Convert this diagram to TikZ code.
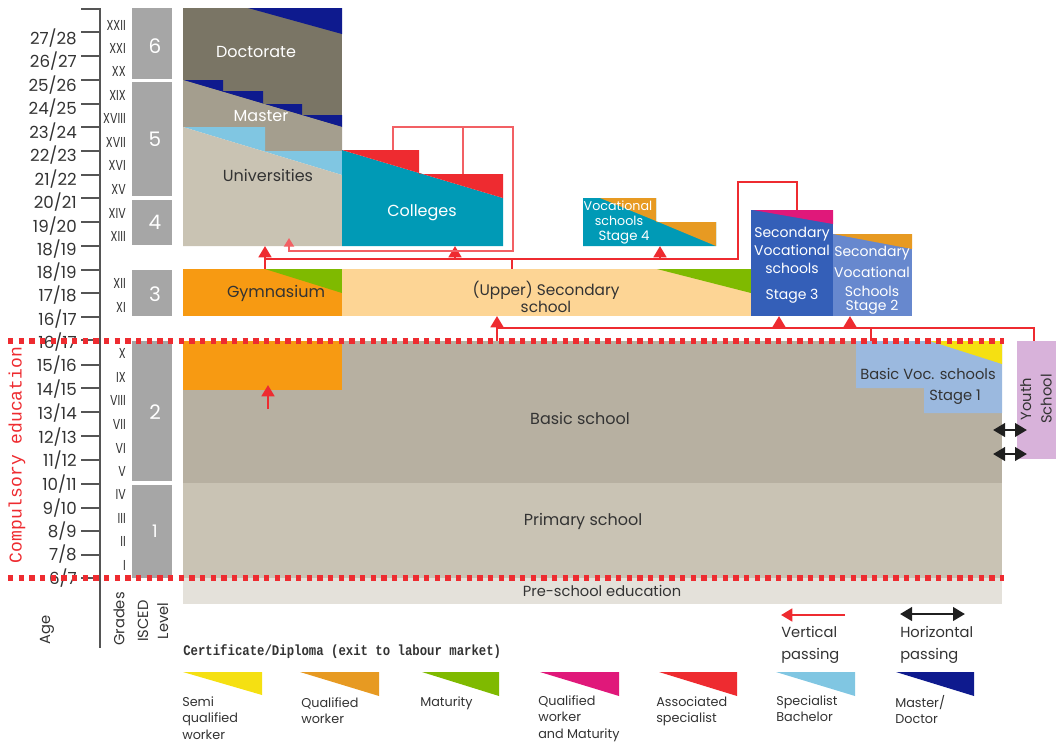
\documentclass[tikz,border=0pt]{standalone}
\usepackage{fontspec}
\setmainfont{Poppins}
\setmonofont{Liberation Mono}
\usetikzlibrary{arrows.meta}
\definecolor{cdoc}{HTML}{7A7565}
\definecolor{cmas}{HTML}{A49E8E}
\definecolor{cuni}{HTML}{C9C3B3}
\definecolor{cnavy}{HTML}{0E1A8E}
\definecolor{clblue}{HTML}{80C6E2}
\definecolor{cteal}{HTML}{009AB6}
\definecolor{cred}{HTML}{EE2B30}
\definecolor{corange}{HTML}{F79A12}
\definecolor{cqorange}{HTML}{E79A22}
\definecolor{cgreen}{HTML}{7FBA00}
\definecolor{clorange}{HTML}{FDD595}
\definecolor{cmag}{HTML}{E0187A}
\definecolor{cyellow}{HTML}{F5E012}
\definecolor{csvs}{HTML}{345FB8}
\definecolor{csvsb}{HTML}{6788CE}
\definecolor{cbasic}{HTML}{B7B0A1}
\definecolor{cprim}{HTML}{C9C3B4}
\definecolor{cpre}{HTML}{E4E1DA}
\definecolor{cbvoc}{HTML}{9BB9DF}
\definecolor{cyouth}{HTML}{D8B2DA}
\definecolor{cisced}{HTML}{A6A6A6}
\definecolor{ctext}{HTML}{333333}
\definecolor{caxis}{HTML}{555555}
\newcommand{\tallrom}[1]{\scalebox{1}[1.3]{#1}}
\begin{document}
\begin{tikzpicture}[x=0.75pt,y=-0.75pt,
  lbl/.style={font=\fontsize{12}{14.5}\selectfont, text=ctext, inner sep=0pt, align=center},
  wlbl/.style={lbl, text=white},
  agelbl/.style={font=\fontsize{12.5}{14}\selectfont, anchor=east, inner sep=0pt, text=ctext},
  gradelbl/.style={font=\fontsize{8.3}{9}\selectfont, anchor=east, inner sep=0pt, text=ctext},
  iscedlbl/.style={font=\fontsize{15}{16}\selectfont, text=white, inner sep=0pt},
  collbl/.style={font=\fontsize{11}{13}\selectfont, text=ctext, inner sep=0pt, rotate=90},
  redln/.style={draw=cred, line width=2pt},
  redarr/.style={redln, -{Triangle[width=9.5pt,length=8.5pt]}},
  pinkln/.style={draw=cred!75, line width=1.4pt},
  pinkarr/.style={pinkln, -{Triangle[width=7.5pt,length=6.5pt]}},
  blkarr/.style={draw=black!88, line width=2.2pt, {Triangle[width=10pt,length=9pt]}-{Triangle[width=10pt,length=9pt]}},
  dotln/.style={draw=cred, line width=3.8pt, dash pattern=on 4pt off 4pt},
  leglbl/.style={font=\fontsize{9.6}{12.4}\selectfont, align=left, anchor=north west, inner sep=0pt, text=ctext},
  passlbl/.style={font=\fontsize{11}{16.5}\selectfont, align=left, anchor=north west, inner sep=0pt, text=ctext}
]
\useasboundingbox (0,0) rectangle (1056,747);

% ---------- Age axis ----------
\draw[caxis, line width=1.3pt] (100,8) -- (100,648);
\foreach \t in {9,32,56,80,104,127,151,175,198,222,246,270,293,317,340,365,388,412,436,460,484,508,531,555,578}
  \draw[caxis, line width=1.3pt] (81,\t) -- (100,\t);
\foreach \y/\a/\b [count=\i] in {38/27/28,61/26/27,85/25/26,108/24/25,132/23/24,155/22/23,179/21/22,202/20/21,226/19/20,249/18/19,
  272/18/19,295/17/18,319/16/17,342/16/17,365/15/16,389/14/15,413/13/14,437/12/13,460/11/12,484/10/11,508/9/10,531/8/9,554/7/8,578/6/7}
  \node[agelbl] (age\i) at (77,\y) {\a/\b};

% ---------- Grades ----------
\foreach \y/\g in {25/XXII,48/XXI,71/XX,95/XIX,118/XVIII,142/XVII,165/XVI,189/XV,213/XIV,236/XIII,
  283/XII,307/XI,353/X,377/IX,400/VIII,424/VII,448/VI,471/V,494/IV,518/III,541/II,565/I}
  \node[gradelbl] (gr\g) at (126,\y) {\tallrom{\g}};

% ---------- ISCED ----------
\fill[cisced] (132,8) rectangle (172,79);
\fill[cisced] (132,82) rectangle (172,196);
\fill[cisced] (132,200) rectangle (172,245);
\fill[cisced] (132,270) rectangle (172,316);
\fill[cisced] (132,341) rectangle (172,481);
\fill[cisced] (132,485) rectangle (172,578);
\node[iscedlbl] (is6) at (155,46) {6};
\node[iscedlbl] (is5) at (155,139) {5};
\node[iscedlbl] (is4) at (155,222) {4};
\node[iscedlbl] (is3) at (155,294) {3};
\node[iscedlbl] (is2) at (155,412) {2};
\node[iscedlbl, font=\fontsize{13}{14}\selectfont] (is1) at (155,531) {1};

\node[collbl] (hage) at (47,630) {Age};
\node[collbl] (hgrades) at (119,619) {Grades};
\node[collbl, align=center, font=\fontsize{11}{15}\selectfont] (hisced) at (153,621) {ISCED\\Level};

% ---------- Tertiary ----------
\fill[cdoc] (183,8) rectangle (342,127);
\fill[cnavy] (248,8) -- (342,8) -- (342,34) -- cycle;
\fill[cnavy] (183,80) -- (223,80) -- (223,91) -- (263,91) -- (263,104) -- (302,104) -- (302,115) -- (342,115) -- (342,127) -- cycle;
\fill[cmas] (183,80) -- (342,127) -- (342,151) -- (265,151) -- (265,127) -- (183,127) -- cycle;
\fill[clblue] (183,127) -- (265,127) -- (265,151) -- (342,151) -- (342,175) -- cycle;
\fill[cuni] (183,127) -- (342,175) -- (342,246) -- (183,246) -- cycle;
\fill[cteal] (342,150) -- (503,198) -- (503,246) -- (342,246) -- cycle;
\fill[cred] (342,150) -- (419,150) -- (419,174) -- (503,174) -- (503,198) -- cycle;

\fill[cteal] (583,198) -- (656,198) -- (656,222) -- (716,222) -- (716,246) -- (583,246) -- cycle;
\fill[cqorange] (600,198) -- (656,198) -- (656,221) -- cycle;
\fill[cqorange] (656,221) -- (656,222) -- (716,222) -- (716,246) -- cycle;

% ---------- Upper secondary ----------
\fill[corange] (183,269) rectangle (342,316);
\fill[cgreen] (265,269) -- (342,269) -- (342,293) -- cycle;
\fill[clorange] (342,269) rectangle (751,316);
\fill[cgreen] (657,269) -- (751,269) -- (751,293) -- cycle;
\fill[csvs] (751,210) rectangle (833,316);
\fill[cmag] (753,210) -- (833,210) -- (833,224) -- cycle;
\fill[csvsb] (833,234) rectangle (912,316);
\fill[cqorange] (833,234) -- (912,234) -- (912,249) -- cycle;

% ---------- Basic / primary / pre-school ----------
\fill[cbasic] (183,341) rectangle (1002,483);
\fill[corange] (183,341) rectangle (342,390);
\fill[cbvoc] (856,341) -- (1002,341) -- (1002,413) -- (924,413) -- (924,388) -- (856,388) -- cycle;
\fill[cyellow] (930,341) -- (1002,341) -- (1002,364) -- cycle;
\fill[cprim] (183,483) rectangle (1002,578);
\fill[cpre] (183,578) rectangle (1002,604);
\fill[cyouth] (1017,341) rectangle (1056,459);

% ---------- Red connectors (upper) ----------
\coordinate (gymtop) at (265,269);
\coordinate (unibot) at (265,246);
\coordinate (j1) at (265,259);
\coordinate (j2) at (738,259);
\coordinate (j3) at (738,182);
\coordinate (j4) at (797,182);
\coordinate (svstop) at (797,210);
\coordinate (jc) at (455,259);
\coordinate (colbot) at (455,246);
\coordinate (js) at (660,259);
\coordinate (st4bot) at (660,246);
\coordinate (ju) at (512,259);
\coordinate (usectop) at (512,269);
\draw[redarr] (gymtop) -- (unibot);
\draw[redln] (j1) -- (j2) -- (j3) -- (j4) -- (svstop);
\draw[redarr] (jc) -- (colbot);
\draw[redarr] (js) -- (st4bot);
\draw[redln] (ju) -- (usectop);

\coordinate (p1) at (393,150);
\coordinate (p2) at (393,127);
\coordinate (p3) at (513,127);
\coordinate (p4) at (513,251);
\coordinate (p5) at (289,251);
\coordinate (p6) at (289,238);
\coordinate (pm1) at (463,127);
\coordinate (pm2) at (463,174);
\draw[pinkarr] (p1) -- (p2) -- (p3) -- (p4) -- (p5) -- (p6);
\draw[pinkln] (pm1) -- (pm2);

% ---------- Red connectors (lower) ----------
\coordinate (bstop) at (497,341);
\coordinate (usbot) at (497,316);
\coordinate (l1) at (497,328);
\coordinate (l2) at (1034,328);
\coordinate (youthtop) at (1034,341);
\coordinate (l3) at (871,328);
\coordinate (bvtop) at (871,341);
\coordinate (l4) at (779,328);
\coordinate (s3bot) at (779,316);
\coordinate (l5) at (850,328);
\coordinate (s2bot) at (850,316);
\draw[redarr] (bstop) -- (usbot);
\draw[redln] (l1) -- (l2) -- (youthtop);
\draw[redln] (l3) -- (bvtop);
\draw[redarr] (l4) -- (s3bot);
\draw[redarr] (l5) -- (s2bot);

\coordinate (ga1) at (268,409);
\coordinate (ga2) at (268,385);
\draw[redarr] (ga1) -- (ga2);

% horizontal passing to youth school
\coordinate (h1a) at (993,430);
\coordinate (h1b) at (1027,430);
\coordinate (h2a) at (993,454);
\coordinate (h2b) at (1027,454);
\draw[blkarr] (h1a) -- (h1b);
\draw[blkarr] (h2a) -- (h2b);

% ---------- Dotted compulsory limits ----------
\coordinate (d1a) at (8,341);
\coordinate (d1b) at (1004,341);
\coordinate (d2a) at (8,578);
\coordinate (d2b) at (1004,578);
\draw[dotln] (d1a) -- (d1b);
\draw[dotln] (d2a) -- (d2b);

\node[rotate=90, text=cred, font=\ttfamily\fontsize{13.5}{14}\selectfont, inner sep=0pt] (compul) at (17,455) {Compulsory education};

% ---------- Block labels ----------
\node[wlbl] (tdoc) at (256,52) {Doctorate};
\node[wlbl] (tmas) at (261,116) {Master};
\node[lbl] (tuni) at (268,175) {Universities};
\node[wlbl] (tcol) at (422,213) {Colleges};
\node[wlbl, font=\fontsize{9.5}{11}\selectfont] (tv4a) at (618,206) {Vocational};
\node[wlbl, font=\fontsize{9.5}{11}\selectfont] (tv4b) at (619,221) {schools};
\node[wlbl, font=\fontsize{10}{11}\selectfont] (tv4c) at (624,238) {Stage 4};
\node[lbl] (tgym) at (276,293) {Gymnasium};
\node[lbl, font=\fontsize{11.5}{12.8}\selectfont] (tusec) at (546,297) {(Upper) Secondary\\school};
\node[wlbl, font=\fontsize{10.5}{13.5}\selectfont] (ts3) at (792,250) {Secondary\\Vocational\\schools};
\node[wlbl, font=\fontsize{10.5}{13.5}\selectfont] (ts3b) at (792,296) {Stage 3};
\node[wlbl, font=\fontsize{10.5}{13}\selectfont] (ts2a) at (872,253) {Secondary};
\node[wlbl, font=\fontsize{10.5}{13}\selectfont] (ts2b) at (872,272) {Vocational};
\node[wlbl, font=\fontsize{10.5}{13}\selectfont] (ts2c) at (872,291) {Schools};
\node[wlbl, font=\fontsize{10.5}{13}\selectfont] (ts2d) at (872,307) {Stage 2};
\node[lbl, font=\fontsize{11}{13}\selectfont] (tbv) at (928,374) {Basic Voc. schools};
\node[lbl, font=\fontsize{11}{13}\selectfont] (tbv2) at (955,397) {Stage 1};
\node[lbl, rotate=90, font=\fontsize{11}{15.5}\selectfont] (tyouth) at (1036,399) {Youth\\School};
\node[lbl] (tbasic) at (580,418) {Basic school};
\node[lbl] (tprim) at (583,521) {Primary school};
\node[lbl, font=\fontsize{11}{13}\selectfont] (tpre) at (602,591) {Pre-school education};

% ---------- Legend ----------
\node[anchor=west, inner sep=0pt, text=ctext, font=\ttfamily\bfseries\fontsize{11}{12}\selectfont] (legtitle) at (183,652) {\scalebox{0.84}[1]{Certificate/Diploma (exit to labour market)}};

\fill[cyellow] (183,672) -- (262,672) -- (262,695) -- cycle;
\fill[cqorange] (300,672) -- (379,672) -- (379,696) -- cycle;
\fill[cgreen] (422,672) -- (499,672) -- (499,696) -- cycle;
\fill[cmag] (540,672) -- (619,672) -- (619,696) -- cycle;
\fill[cred] (659,672) -- (737,672) -- (737,696) -- cycle;
\fill[clblue] (776,672) -- (855,672) -- (855,696) -- cycle;
\fill[cnavy] (896,672) -- (974,672) -- (974,696) -- cycle;

\node[leglbl] (lg1) at (182,696) {Semi\\qualified\\worker};
\node[leglbl] (lg2) at (301,697) {Qualified\\worker};
\node[leglbl] (lg3) at (420,696) {Maturity};
\node[leglbl] (lg4) at (538,695) {Qualified\\worker\\and Maturity};
\node[leglbl] (lg5) at (656,696) {Associated\\specialist};
\node[leglbl] (lg6) at (776,695) {Specialist\\Bachelor};
\node[leglbl] (lg7) at (895,695) {Master/\\Doctor};

\coordinate (va) at (845,615);
\coordinate (vb) at (781,615);
\draw[redarr] (va) -- (vb);
\node[passlbl] (vlbl) at (781,626) {Vertical\\passing};
\coordinate (ha) at (900,614);
\coordinate (hb) at (965,614);
\draw[blkarr] (ha) -- (hb);
\node[passlbl] (hlbl) at (900,626) {Horizontal\\passing};
\end{tikzpicture}
\end{document}
